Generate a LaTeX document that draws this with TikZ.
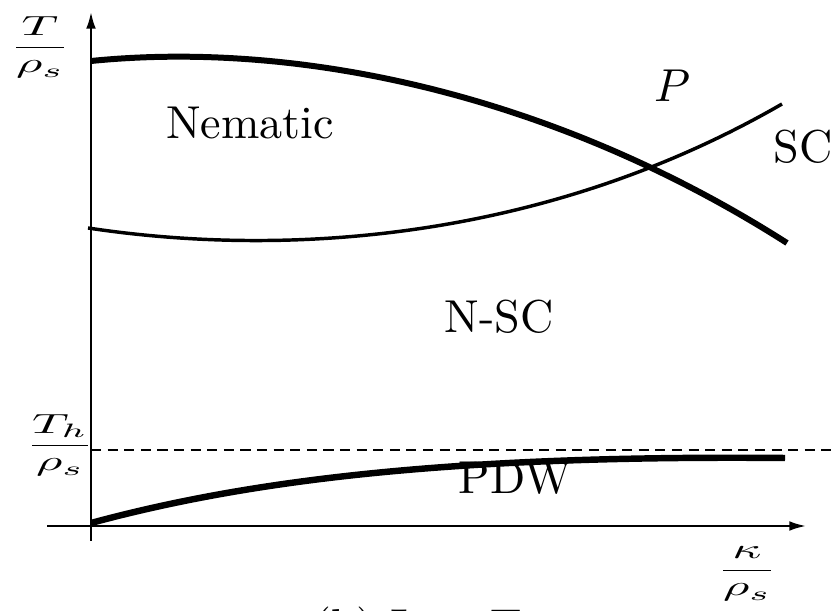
\documentclass[tikz,border=0pt]{standalone}
\usepackage{amsmath}
\usetikzlibrary{arrows.meta}
\begin{document}
\begin{tikzpicture}[x=0.2169pt,y=-0.2169pt,
    axis/.style={line width=0.45pt,-{Latex[length=3.6pt,width=2.1pt]}},
    lbl/.style={anchor=base,inner sep=0pt},
    axlbl/.style={anchor=base,inner sep=0pt,font=\normalsize}]
\useasboundingbox (0,0) rectangle (834,611);
% axes
\coordinate (ys) at (91,541);
\coordinate (ye) at (91,12);
\coordinate (xs) at (47,526);
\coordinate (xe) at (806,526);
\draw[axis] (ys) -- (ye);
\draw[axis] (xs) -- (xe);
% T_h level
\coordinate (hs) at (91,450);
\coordinate (he) at (834,450);
\draw[line width=0.45pt,dash pattern=on 2.2pt off 1.4pt] (hs) -- (he);
% phase lines
\draw[line width=1.3pt] (91,61) .. controls (300,40) and (555,95) .. (787,243);
\draw[line width=0.75pt] (88,228) .. controls (300,260) and (555,235) .. (782,104);
\draw[line width=1.4pt] (91,523) .. controls (250,480) and (450,455) .. (785,458);
% labels
\node[axlbl] (tlab) at (40,54) {\scalebox{1.1}[0.6]{$\dfrac{T}{\rho_s}$}};
\node[axlbl] (thlab) at (60,452) {\scalebox{1.1}[0.6]{$\dfrac{T_h}{\rho_s}$}};
\node[axlbl] (klab) at (747,577) {\scalebox{1.1}[0.6]{$\dfrac{\kappa}{\rho_s}$}};
\node[lbl] (nem) at (250,139) {Nematic};
\node[lbl] (pt) at (672,102) {$P$};
\node[lbl] (sc) at (803,163) {SC};
\node[lbl] (nsc) at (499,333) {N-SC};
\node[lbl] (pdw) at (515,494) {PDW};
\node[lbl] (capt) at (418,641) {(b)\ Low T};
\end{tikzpicture}
\end{document}
